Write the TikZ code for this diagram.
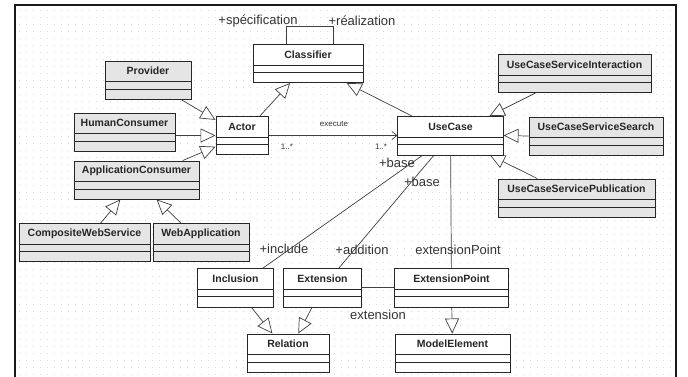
\documentclass[tikz,border=0pt]{standalone}
\usepackage{fontspec}
\setmainfont{Liberation Sans}
\usetikzlibrary{arrows.meta}

% one UML class: optional fill, name, centre, width, title
\newcommand{\umlclass}[5][white]{%
  \node[umlbox, fill=#1, minimum width=#4] (#2) at (#3) {};
  \node[umltitle] (#2-title) at ([yshift=-10.5pt]#2.north) {#5};
  \draw[umlbox] ([yshift=-21pt]#2.north west) -- ([yshift=-21pt]#2.north east);
  \draw[umlbox] ([yshift=-28.5pt]#2.north west) -- ([yshift=-28.5pt]#2.north east);
}

\begin{document}
\begin{tikzpicture}[
            x=1pt, y=-1pt,
            umlbox/.style={draw=black!85, line width=1pt, minimum height=38pt, inner sep=0pt},
            umltitle/.style={font=\fontsize{10.5}{12}\selectfont\bfseries, text=black!85, inner sep=0pt},
            rolelabel/.style={font=\fontsize{13}{15}\selectfont, text=black!80, inner sep=0pt},
            smalllabel/.style={font=\fontsize{8}{10}\selectfont, text=black!80, inner sep=0pt},
            assoc/.style={draw=black!75, line width=0.7pt},
            generalize/.style={assoc, -{Triangle[open, length=15pt, width=14pt, fill=white]}},
            navigate/.style={assoc, -{Straight Barb[length=5pt, width=8pt]}},
            griddot/.style={draw=black!15, line width=1pt, dash pattern=on 1pt off 6pt}
            ]
  \useasboundingbox (0,0) rectangle (688,376);
  \clip (0,0) rectangle (688,376);
  \fill[white] (0,0) rectangle (688,376);
  % background grid
  \foreach \gy in {10,17,...,374}
    \draw[griddot] (18.5,\gy) -- (676,\gy);
  \draw[black!90, line width=1.3pt] (15,390) -- (15,5) -- (676,5) -- (676,390);

  % classes
  \umlclass{Classifier}{308,63.5}{110pt}{Classifier}
  \umlclass[black!10]{Provider}{148,80}{86pt}{Provider}
  \umlclass[black!10]{HumanConsumer}{124.5,132}{101pt}{HumanConsumer}
  \umlclass{Actor}{242,135.5}{52pt}{Actor}
  \umlclass[black!10]{ApplicationConsumer}{136.5,180}{125pt}{ApplicationConsumer}
  \umlclass[black!10]{CompositeWebService}{84.5,242.5}{131pt}{CompositeWebService}
  \umlclass[black!10]{WebApplication}{201,242.5}{96pt}{WebApplication}
  \umlclass{UseCase}{450.5,135.5}{105pt}{UseCase}
  \umlclass[black!10]{UCSInteraction}{574.5,73.5}{153pt}{UseCaseServiceInteraction}
  \umlclass[black!10]{UCSSearch}{596,136}{134pt}{UseCaseServiceSearch}
  \umlclass[black!10]{UCSPublication}{576.5,198}{157pt}{UseCaseServicePublication}
  \umlclass{Inclusion}{235.5,287.5}{75pt}{Inclusion}
  \umlclass{Extension}{322.5,287.5}{77pt}{Extension}
  \umlclass{ExtensionPoint}{451.5,287.5}{113pt}{ExtensionPoint}
  \umlclass{Relation}{288,353}{82pt}{Relation}
  \umlclass{ModelElement}{452.5,353}{115pt}{ModelElement}

  % generalizations
  \draw[generalize] (Provider) -- (Actor);
  \draw[generalize] (HumanConsumer.east |- Actor.west) -- (Actor.west);
  \draw[generalize] (ApplicationConsumer) -- (Actor);
  \draw[generalize] (Actor) -- (Classifier);
  \draw[generalize] (UseCase) -- (Classifier);
  \draw[generalize] (UCSInteraction) -- (UseCase);
  \draw[generalize] (UCSSearch.west) -- (UseCase.east);
  \draw[generalize] (UCSPublication) -- (UseCase);
  \draw[generalize] (CompositeWebService) -- (ApplicationConsumer);
  \draw[generalize] (WebApplication) -- (ApplicationConsumer);
  \draw[generalize] (Inclusion) -- (Relation);
  \draw[generalize] (Extension) -- (Relation);
  \draw[generalize] (ExtensionPoint) -- (ModelElement);

  % associations
  \draw[navigate] (Actor.east) -- (UseCase.west);
  \draw[assoc] ([xshift=-22pt]Classifier.north) |- ([xshift=25pt,yshift=18pt]Classifier.north)
      -- ([xshift=25pt]Classifier.north);
  \draw[assoc] (UseCase) -- (Inclusion);
  \draw[assoc] (UseCase) -- (Extension);
  \draw[assoc] (UseCase) -- (ExtensionPoint);
  \draw[assoc] (Extension.east) -- (ExtensionPoint.west);
  % redraw boxes hit by the lines
  \foreach \cls in {UseCase,Inclusion,Extension,ExtensionPoint}
    \fill[white] ([shift={(0.5pt,-0.5pt)}]\cls.north west) rectangle ([shift={(-0.5pt,0.5pt)}]\cls.south east);
  \foreach \cls/\txt in {UseCase/UseCase,Inclusion/Inclusion,Extension/Extension,ExtensionPoint/ExtensionPoint} {
    \draw[umlbox] (\cls.north west) rectangle (\cls.south east);
    \node[umltitle] at ([yshift=-10.5pt]\cls.north) {\txt};
    \draw[umlbox] ([yshift=-21pt]\cls.north west) -- ([yshift=-21pt]\cls.north east);
    \draw[umlbox] ([yshift=-28.5pt]\cls.north west) -- ([yshift=-28.5pt]\cls.north east);
  }

  % role and multiplicity labels
  \node[rolelabel] (specLabel) at (258,21) {+spécification};
  \node[rolelabel] (realLabel) at (362,21) {+réalization};
  \node[smalllabel] (executeLabel) at (334,124) {execute};
  \node[smalllabel] (actorMult) at (287,147) {1..*};
  \node[smalllabel] (useCaseMult) at (381,147) {1..*};
  \node[rolelabel] (baseInclude) at (397,163) {+base};
  \node[rolelabel] (baseExtend) at (422,182) {+base};
  \node[rolelabel] (includeLabel) at (284,249) {+include};
  \node[rolelabel] (additionLabel) at (362,250) {+addition};
  \node[rolelabel] (pointLabel) at (458,250) {extensionPoint};
  \node[rolelabel] (extensionLabel) at (378,315) {extension};
\end{tikzpicture}
\end{document}
